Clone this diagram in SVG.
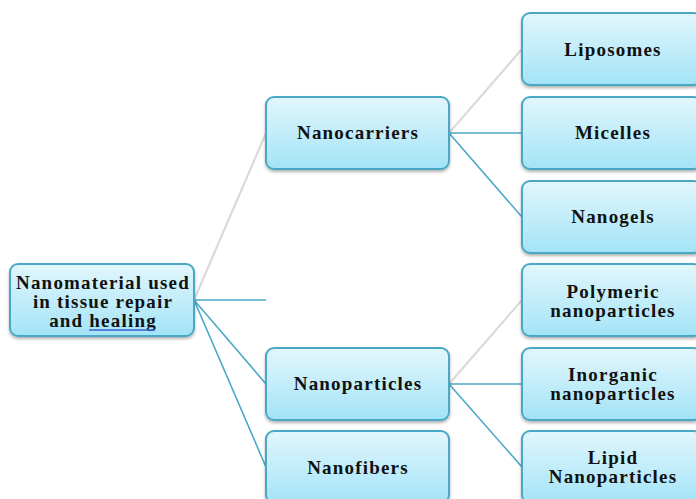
<svg xmlns="http://www.w3.org/2000/svg" width="696" height="499" viewBox="0 0 696 499">
<defs>
<linearGradient id="g" x1="0" y1="0" x2="0" y2="1">
<stop offset="0" stop-color="#e2f6fc"/>
<stop offset="1" stop-color="#a3e4f7"/>
</linearGradient>
<filter id="sh" x="-10%" y="-10%" width="120%" height="130%">
<feDropShadow dx="0" dy="2" stdDeviation="1.5" flood-color="#000" flood-opacity="0.3"/>
</filter>
</defs>
<style>
.box{fill:url(#g);stroke:#4aa9c4;stroke-width:2;filter:url(#sh)}
.t{font-family:"Liberation Serif","Times New Roman",serif;font-weight:bold;font-size:19px;letter-spacing:1.2px;fill:#111;text-anchor:middle}
.b{stroke:#4aa9c4;stroke-width:1.6;fill:none}
.g{stroke:#dadada;stroke-width:2.2;fill:none}
</style>
<rect width="696" height="499" fill="#fff"/>
<g id="connectors">
<line class="g" x1="194" y1="300" x2="266" y2="133"/>
<line class="b" x1="194" y1="300" x2="266" y2="300"/>
<line class="b" x1="194" y1="300" x2="266" y2="384"/>
<line class="b" x1="194" y1="300" x2="266" y2="467"/>
<line class="g" x1="449" y1="133" x2="522" y2="49"/>
<line class="b" x1="449" y1="133" x2="522" y2="133"/>
<line class="b" x1="449" y1="133" x2="522" y2="217"/>
<line class="g" x1="449" y1="384" x2="522" y2="300"/>
<line class="b" x1="449" y1="384" x2="522" y2="384"/>
<line class="b" x1="449" y1="384" x2="522" y2="467"/>
</g>
<g id="root">
<rect class="box" x="10" y="264" width="184" height="72" rx="8"/>
<text class="t" x="103" y="289">Nanomaterial used</text>
<text class="t" x="103" y="308">in tissue repair</text>
<text class="t" x="103" y="327">and healing</text>
<line x1="89" y1="330" x2="155" y2="330" stroke="#3a5fcd" stroke-width="1.3"/>
</g>
<g id="nanocarriers">
<rect class="box" x="266" y="97" width="183" height="72" rx="8"/>
<text class="t" x="358" y="139">Nanocarriers</text>
</g>
<g id="nanoparticles">
<rect class="box" x="266" y="348" width="183" height="72" rx="8"/>
<text class="t" x="358" y="390">Nanoparticles</text>
</g>
<g id="nanofibers">
<rect class="box" x="266" y="431" width="183" height="72" rx="8"/>
<text class="t" x="358" y="474">Nanofibers</text>
</g>
<g id="liposomes">
<rect class="box" x="522" y="13" width="180" height="72" rx="8"/>
<text class="t" x="613" y="56">Liposomes</text>
</g>
<g id="micelles">
<rect class="box" x="522" y="97" width="180" height="72" rx="8"/>
<text class="t" x="613" y="139">Micelles</text>
</g>
<g id="nanogels">
<rect class="box" x="522" y="181" width="180" height="72" rx="8"/>
<text class="t" x="613" y="223">Nanogels</text>
</g>
<g id="polymeric">
<rect class="box" x="522" y="264" width="180" height="72" rx="8"/>
<text class="t" x="613" y="298">Polymeric</text>
<text class="t" x="613" y="317">nanoparticles</text>
</g>
<g id="inorganic">
<rect class="box" x="522" y="348" width="180" height="72" rx="8"/>
<text class="t" x="613" y="381">Inorganic</text>
<text class="t" x="613" y="400">nanoparticles</text>
</g>
<g id="lipid">
<rect class="box" x="522" y="431" width="180" height="72" rx="8"/>
<text class="t" x="613" y="464">Lipid</text>
<text class="t" x="613" y="483">Nanoparticles</text>
</g>
</svg>
